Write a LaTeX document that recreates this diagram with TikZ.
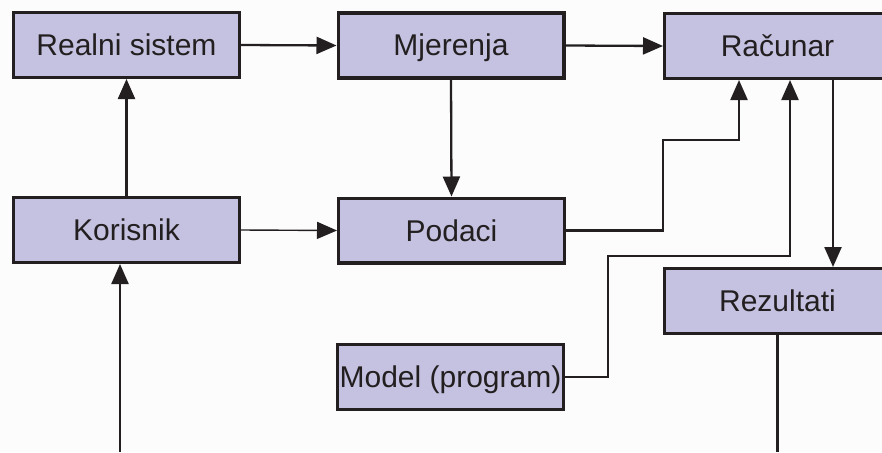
\documentclass[tikz,border=0pt]{standalone}
\usepackage{fontspec}
\setmainfont{Liberation Sans}
\usetikzlibrary{arrows.meta}
\definecolor{boxfill}{RGB}{196,194,224}
\definecolor{ink}{RGB}{35,31,32}
\definecolor{bg}{RGB}{252,252,252}
\tikzset{
  blok/.style={draw=ink, fill=boxfill, line width=3.4pt, rectangle, inner sep=0pt,
    minimum width=225.6pt, minimum height=64.6pt, text=ink,
    font=\fontsize{30}{34}\selectfont, text height=21pt, text depth=0pt},
  veza/.style={draw=ink, line width=2.3pt, -{Triangle[length=20pt,width=17pt]}},
  tanka/.style={draw=ink, line width=1.4pt, -{Triangle[length=20pt,width=17pt]}},
  linija/.style={draw=ink, line width=2.3pt}
}
\begin{document}
\begin{tikzpicture}[x=1pt,y=-1pt]
\useasboundingbox (0,0) rectangle (882,452);
\clip (0,0) rectangle (882,452);
\fill[bg] (0,0) rectangle (882,452);
\node[blok] (rs) at (126.5,45) {Realni sistem};
\node[blok] (mj) at (451,45.5) {Mjerenja};
\node[blok] (rc) at (777.5,46) {Računar};
\node[blok] (kor) at (126.5,230) {Korisnik};
\node[blok] (pod) at (451.5,230.5) {Podaci};
\node[blok] (mod) at (450.5,377) {Model (program)};
\node[blok] (rez) at (777.5,301) {Rezultati};
\coordinate (p1) at (663,140);
\coordinate (m1) at (608,256);
\coordinate (izlaz) at (777.5,452);
\coordinate (ulaz) at (120,452);
\draw[veza] (rs.east) -- (mj.west);
\draw[veza] (mj.east) -- (rc.west);
\draw[veza] (kor.north) -- (rs.south);
\draw[tanka] (kor.east) -- (pod.west);
\draw[veza] (mj.south) -- (pod.north);
\draw[veza] (pod.east) -| (p1) -| ([xshift=-38.5pt]rc.south);
\draw[veza] (mod.east) -| (m1) -| ([xshift=12.5pt]rc.south);
\draw[veza] ([xshift=55.5pt]rc.south) -- ([xshift=55.5pt]rez.north);
\draw[linija] (rez.south) -- (izlaz);
\draw[veza] (ulaz) -- ([xshift=-6.5pt]kor.south);
\end{tikzpicture}
\end{document}
